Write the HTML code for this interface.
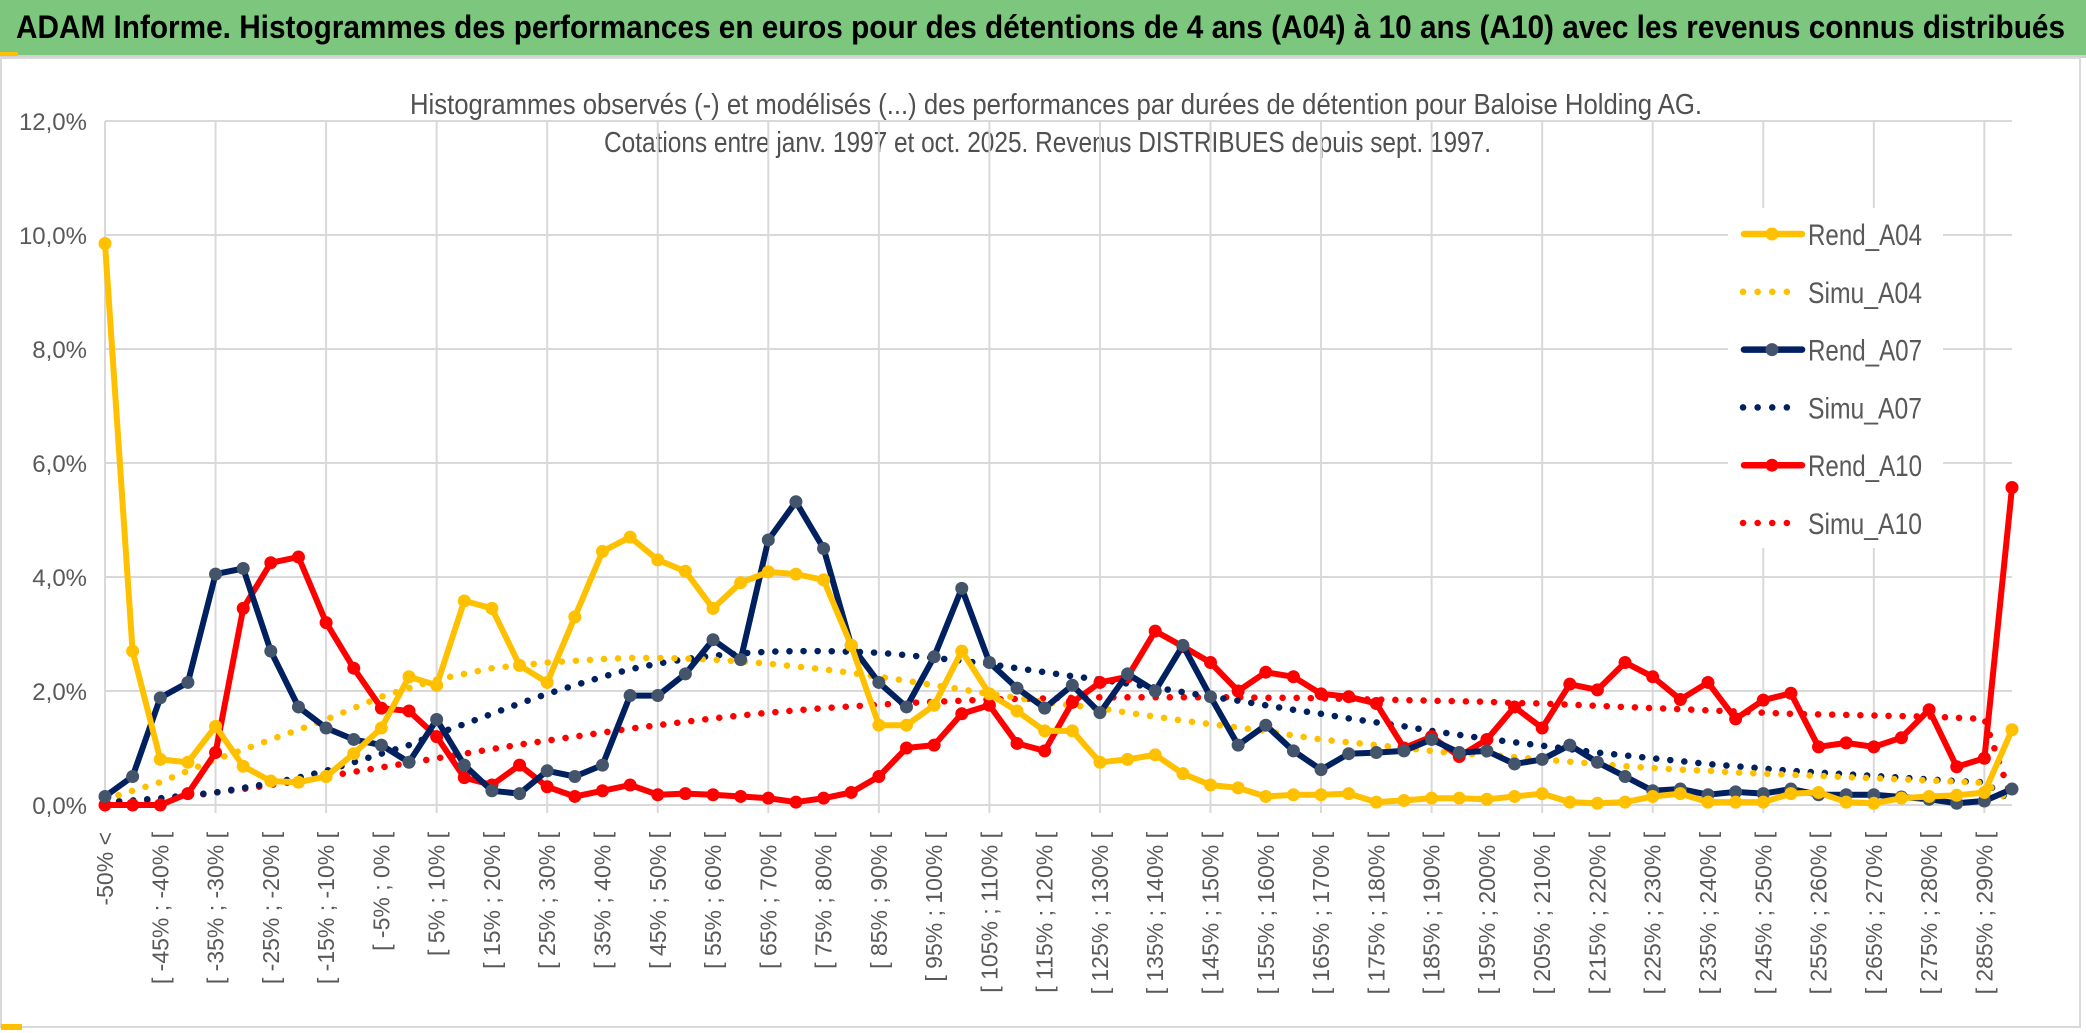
<!DOCTYPE html>
<html><head><meta charset="utf-8"><style>
html,body{margin:0;padding:0;background:#fff;}
svg{display:block;font-family:"Liberation Sans",sans-serif;}
</style></head><body>
<svg id="chart" width="2086" height="1033" viewBox="0 0 2086 1033" xmlns="http://www.w3.org/2000/svg">
  <rect x="0" y="0" width="2086" height="55" fill="#7dc67e"/>
  <rect x="0" y="55" width="2086" height="3" fill="#d0d0d0"/>
  <rect x="0" y="52" width="18" height="4" fill="#ffc000"/>
  <text x="16" y="38" font-size="32" font-weight="bold" fill="#000" textLength="2049" lengthAdjust="spacingAndGlyphs">ADAM Informe. Histogrammes des performances en euros pour des détentions de 4 ans (A04) à 10 ans (A10) avec les revenus connus distribués</text>
  <rect x="1" y="58" width="2079" height="969" fill="none" stroke="#d9d9d9" stroke-width="2"/>
  <rect x="1" y="1024" width="21" height="6" fill="#ffc000"/>
  <text x="410" y="114" font-size="29" fill="#505050" textLength="1292" lengthAdjust="spacingAndGlyphs">Histogrammes observés (-) et modélisés (...) des performances par durées de détention pour Baloise Holding AG.</text>
  <text x="604" y="152" font-size="29" fill="#505050" textLength="887" lengthAdjust="spacingAndGlyphs">Cotations entre janv. 1997 et oct. 2025. Revenus DISTRIBUES depuis sept. 1997.</text>
  <g id="grid"></g>
  <g id="axes"></g>
  <g id="series"></g>
  <g id="legend"></g>
</svg>
<script>
const categoryCount = 70;
const yTicks = [0, 2, 4, 6, 8, 10, 12];
const yTickLabels = ["0,0%", "2,0%", "4,0%", "6,0%", "8,0%", "10,0%", "12,0%"];
const binStarts = [];
for (let k = 0; k < categoryCount; k++) binStarts.push(-55 + 5 * k);

const rendA04 = [9.85,2.7,0.8,0.75,1.38,0.68,0.42,0.4,0.5,0.9,1.35,2.25,2.1,3.58,3.45,2.45,2.15,3.3,4.45,4.7,4.3,4.1,3.45,3.9,4.09,4.05,3.95,2.8,1.4,1.4,1.75,2.7,1.95,1.65,1.3,1.3,0.75,0.8,0.88,0.55,0.35,0.3,0.15,0.18,0.18,0.2,0.05,0.08,0.12,0.12,0.1,0.15,0.2,0.05,0.03,0.05,0.15,0.2,0.05,0.05,0.05,0.2,0.22,0.05,0.03,0.12,0.15,0.17,0.22,1.32];
const simuA04 = [0.10,0.25,0.40,0.60,0.80,0.97,1.15,1.32,1.50,1.70,1.90,2.05,2.20,2.30,2.40,2.45,2.50,2.53,2.56,2.58,2.58,2.57,2.55,2.52,2.48,2.43,2.38,2.32,2.25,2.18,2.10,2.03,1.95,1.88,1.80,1.75,1.70,1.62,1.55,1.48,1.42,1.36,1.30,1.22,1.15,1.10,1.05,1.00,0.95,0.90,0.88,0.84,0.80,0.76,0.72,0.68,0.65,0.62,0.60,0.57,0.55,0.53,0.51,0.49,0.47,0.45,0.43,0.41,0.39,0.05];
const rendA07 = [0.15,0.5,1.88,2.15,4.05,4.15,2.7,1.72,1.35,1.15,1.05,0.75,1.5,0.7,0.25,0.2,0.6,0.5,0.7,1.92,1.92,2.3,2.9,2.55,4.65,5.32,4.5,2.8,2.15,1.72,2.6,3.8,2.5,2.05,1.7,2.1,1.62,2.3,2.0,2.8,1.9,1.05,1.4,0.95,0.62,0.9,0.92,0.95,1.15,0.92,0.95,0.72,0.8,1.05,0.75,0.5,0.25,0.28,0.18,0.23,0.2,0.28,0.18,0.18,0.18,0.14,0.1,0.03,0.07,0.28];
const simuA07 = [0.05,0.08,0.12,0.17,0.22,0.30,0.38,0.48,0.60,0.75,0.90,1.05,1.25,1.42,1.60,1.78,1.95,2.10,2.25,2.38,2.48,2.56,2.62,2.66,2.69,2.70,2.70,2.69,2.67,2.63,2.58,2.53,2.47,2.40,2.33,2.26,2.20,2.13,2.06,1.98,1.90,1.83,1.75,1.67,1.60,1.52,1.45,1.38,1.30,1.23,1.16,1.10,1.04,0.98,0.92,0.87,0.82,0.77,0.72,0.68,0.64,0.60,0.57,0.54,0.51,0.48,0.45,0.42,0.40,0.05];
const rendA10 = [0.0,0.0,0.0,0.2,0.92,3.45,4.25,4.35,3.2,2.4,1.7,1.65,1.2,0.48,0.35,0.7,0.32,0.15,0.25,0.35,0.18,0.2,0.18,0.15,0.12,0.05,0.12,0.22,0.5,1.0,1.05,1.6,1.75,1.08,0.95,1.8,2.15,2.25,3.05,2.78,2.5,2.0,2.33,2.25,1.95,1.9,1.78,1.0,1.2,0.85,1.15,1.72,1.35,2.12,2.02,2.5,2.25,1.85,2.15,1.51,1.84,1.96,1.02,1.09,1.02,1.18,1.67,0.67,0.82,5.57];
const simuA10 = [0.03,0.06,0.10,0.15,0.22,0.28,0.35,0.42,0.50,0.58,0.66,0.74,0.82,0.90,0.98,1.06,1.13,1.20,1.27,1.34,1.40,1.46,1.52,1.57,1.62,1.66,1.70,1.73,1.76,1.79,1.81,1.83,1.85,1.86,1.87,1.88,1.89,1.89,1.89,1.89,1.89,1.89,1.88,1.88,1.87,1.86,1.85,1.84,1.83,1.82,1.81,1.79,1.78,1.76,1.74,1.72,1.70,1.68,1.66,1.64,1.62,1.60,1.59,1.58,1.57,1.56,1.55,1.53,1.51,0.09];

const NS = "http://www.w3.org/2000/svg";
const X0 = 105, X1 = 2012, Y0 = 805, PER = 57;
function xPos(k){ return X0 + k * (X1 - X0) / (categoryCount - 1); }
function yPos(v){ return Y0 - v * PER; }
function mk(tag, attrs, parent){ const e = document.createElementNS(NS, tag); for (const a in attrs) e.setAttribute(a, attrs[a]); parent.appendChild(e); return e; }

const grid = document.getElementById('grid');
yTicks.forEach((t, i) => {
  const l = mk('line', {x1: X0, x2: X1, y1: yPos(t), y2: yPos(t), stroke: '#d9d9d9', 'stroke-width': 2}, grid);
  
  
  const tx = mk('text', {x: 87, y: yPos(t) + 9, 'text-anchor': 'end', 'font-size': 24, fill: '#595959'}, grid);
  tx.textContent = yTickLabels[i];
  
  
});
for (let k = 0; k < categoryCount; k += 4) {
  const l = mk('line', {x1: xPos(k), x2: xPos(k), y1: yPos(12), y2: Y0 + 8, stroke: '#d9d9d9', 'stroke-width': 2}, grid);
  
  
}
const axes = document.getElementById('axes');
for (let k = 0; k < categoryCount; k += 2) {
  const s = binStarts[k];
  const label = k === 0 ? '-50% <' : '[ ' + s + '% ; ' + (s + 5) + '% [';
  const tx = mk('text', {transform: 'translate(' + (xPos(k) + 8) + ',832) rotate(-90)', 'text-anchor': 'end', 'font-size': 23, fill: '#595959'}, axes);
  tx.textContent = label;
  
  
}

const seriesG = document.getElementById('series');
function pts(arr){ return arr.map((v, k) => xPos(k).toFixed(1) + ',' + yPos(v).toFixed(1)).join(' '); }
function dotted(arr, color, name){
  const p = mk('polyline', {points: pts(arr), fill: 'none', stroke: color, 'stroke-width': 6.5, 'stroke-linecap': 'round', 'stroke-dasharray': '0.1 14'}, seriesG);
  
  
}
function solid(arr, color, mcolor, name){
  const g = mk('g', {}, seriesG);
  
  
  mk('polyline', {points: pts(arr), fill: 'none', stroke: color, 'stroke-width': 6, 'stroke-linejoin': 'round'}, g);
  arr.forEach((v, k) => {
    const c = mk('circle', {cx: xPos(k), cy: yPos(v), r: 6.5, fill: mcolor}, g);
    
    
  });
}
dotted(simuA10, '#ff0000', 'simu-a10-line');
dotted(simuA07, '#002060', 'simu-a07-line');
dotted(simuA04, '#ffc000', 'simu-a04-line');
solid(rendA10, '#ff0000', '#ff0000', 'rend-a10-line');
solid(rendA07, '#002060', '#44546a', 'rend-a07-line');
solid(rendA04, '#ffc000', '#ffc000', 'rend-a04-line');

const lg = document.getElementById('legend');
const bg = mk('rect', {x: 1728, y: 208, width: 215, height: 340, fill: '#fff'}, lg);


const legendNames = ['Rend_A04', 'Simu_A04', 'Rend_A07', 'Simu_A07', 'Rend_A10', 'Simu_A10'];
const legendColors = ['#ffc000', '#ffc000', '#002060', '#002060', '#ff0000', '#ff0000'];
const legendMarker = ['#ffc000', null, '#44546a', null, '#ff0000', null];
legendNames.forEach((n, i) => {
  const y = 234 + i * 57.8;
  const g = mk('g', {}, lg);
  
  
  if (legendMarker[i]) {
    mk('line', {x1: 1744, x2: 1802, y1: y, y2: y, stroke: legendColors[i], 'stroke-width': 6.5, 'stroke-linecap': 'round'}, g);
    mk('circle', {cx: 1772, cy: y, r: 6.5, fill: legendMarker[i]}, g);
  } else {
    mk('line', {x1: 1743, x2: 1800, y1: y, y2: y, stroke: legendColors[i], 'stroke-width': 6.5, 'stroke-linecap': 'round', 'stroke-dasharray': '0.1 14.5'}, g);
  }
  const t = mk('text', {x: 1808, y: y + 11, 'font-size': 30, fill: '#595959', textLength: 114, lengthAdjust: 'spacingAndGlyphs'}, g);
  t.textContent = n;
});
</script>
</body></html>
